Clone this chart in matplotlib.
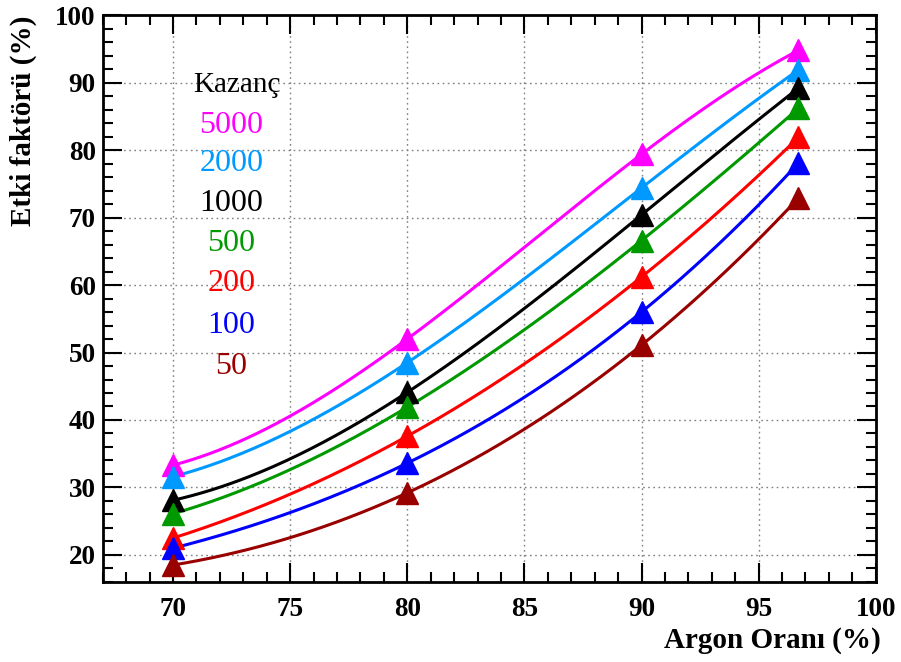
import numpy as np
import matplotlib.pyplot as plt
from matplotlib.ticker import MultipleLocator

argon = [70, 80, 90, 96.7]
gains = ["5000", "2000", "1000", "500", "200", "100", "50"]
etki_5000 = [33.3, 52.0, 79.4, 94.8]
etki_2000 = [31.6, 48.5, 74.4, 91.9]
etki_1000 = [28.1, 44.1, 70.4, 89.2]
etki_500 = [26.1, 41.9, 66.6, 86.2]
etki_200 = [22.5, 37.6, 61.2, 81.9]
etki_100 = [21.0, 33.6, 56.0, 78.1]
etki_50 = [18.5, 29.2, 51.1, 72.9]

series = [etki_5000, etki_2000, etki_1000, etki_500, etki_200, etki_100, etki_50]
colors = ["#ff00ff", "#0099ff", "#000000", "#009900", "#ff0000", "#0000ff", "#990000"]


def smooth(x, y):
    # cubic through the 4 points, just for the drawn curve
    c = np.polyfit(x, y, 3)
    xs = np.linspace(x[0], x[-1], 200)
    return xs, np.polyval(c, xs)


def makePlot():
    plt.rcParams['font.family'] = ['Liberation Serif', 'DejaVu Serif']
    fig = plt.figure(figsize=(9.01, 6.62), dpi=100)
    ax = fig.add_axes([0.114, 0.121, 0.858, 0.856])

    for y, col in zip(series, colors):
        xs, ys = smooth(argon, y)
        ax.plot(xs, ys, color=col, lw=2.2, zorder=3)
        ax.plot(argon, y, linestyle='none', marker='^', ms=16, color=col, zorder=4)

    ax.set_xlim(67, 100)
    ax.set_ylim(16, 100)
    ax.xaxis.set_major_locator(MultipleLocator(5))
    ax.xaxis.set_minor_locator(MultipleLocator(1))
    ax.yaxis.set_major_locator(MultipleLocator(10))
    ax.yaxis.set_minor_locator(MultipleLocator(2))
    ax.tick_params(which='both', direction='in', top=True, right=True, width=1.5, colors='black')
    ax.tick_params(which='major', length=14)
    ax.tick_params(which='minor', length=7)
    ax.tick_params(axis='x', which='major', pad=11)
    ax.tick_params(axis='y', which='major', pad=5)
    for lab in ax.get_xticklabels() + ax.get_yticklabels():
        lab.set_fontsize(19.5)
        lab.set_fontweight('bold')
    for s in ax.spines.values():
        s.set_linewidth(2)
    ax.grid(True, which='major', linestyle=(0, (1.2, 2.5)), color='gray', lw=1)

    fig.text(0.977, 0.032, 'Argon Oranı (%)', ha='right', va='center', fontsize=21, fontweight='bold')
    fig.text(0.026, 0.977, 'Etki faktörü (%)', ha='center', va='top', rotation=90, fontsize=21, fontweight='bold')

    fig.text(0.263, 0.872, 'Kazanç', ha='center', va='center', fontsize=21)
    ty = [0.811, 0.753, 0.693, 0.632, 0.571, 0.509, 0.446]
    for g, col, yy in zip(gains, colors, ty):
        fig.text(0.257, yy, g, ha='center', va='center', fontsize=23, color=col)

    fig.savefig('out.png', dpi=100)


if __name__ == "__main__":
    makePlot()
